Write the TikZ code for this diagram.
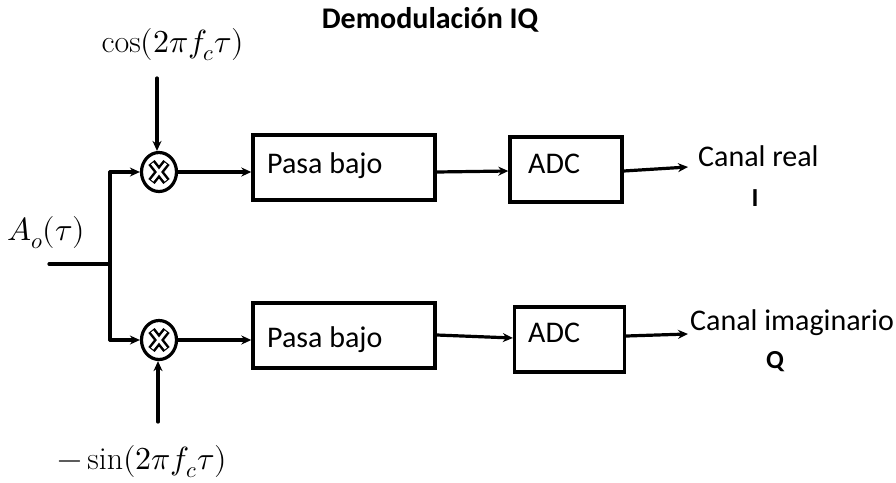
\documentclass[tikz,border=0pt]{standalone}
\usepackage{fontspec}
\usepackage{unicode-math}
\setmainfont{Carlito}
\setmathfont{Latin Modern Math}
\setmathrm{Latin Modern Roman}
\setoperatorfont\mathrm
\usetikzlibrary{shapes.geometric,arrows.meta,calc}

\tikzset{
  wire/.style={line width=3.2pt, line cap=round},
  arr/.style={wire, -{Stealth[length=10pt,width=9pt]}},
  blockbox/.style={draw, line width=3.4pt, inner sep=0pt},
  mixer/.style={ellipse, draw, line width=3.2pt, minimum width=35pt, minimum height=39pt, inner sep=0pt},
  lbl/.style={inner sep=0pt, font=\fontsize{30}{35}\selectfont},
  mlbl/.style={inner sep=0pt, font=\fontsize{32}{37}\selectfont},
  boldlbl/.style={inner sep=0pt, font=\fontsize{30}{35}\selectfont\bfseries},
}

% outlined cross drawn inside a mixer
\newcommand{\mixcross}[1]{%
  \draw[line width=8pt] ($(#1)+(-7.5,-9.5)$) -- ($(#1)+(7.5,9.5)$) ($(#1)+(-7.5,9.5)$) -- ($(#1)+(7.5,-9.5)$);
  \draw[line width=3pt, white] ($(#1)+(-6.8,-8.6)$) -- ($(#1)+(6.8,8.6)$) ($(#1)+(-6.8,8.6)$) -- ($(#1)+(6.8,-8.6)$);
}

\begin{document}
\begin{tikzpicture}[x=1pt, y=-1pt]
\useasboundingbox (0,0) rectangle (896,482);

% title
\node[boldlbl, anchor=base] (title) at (430,28) {Demodulación IQ};

% carrier and input labels
\node[mlbl] (cosl) at (173,45) {$\cos(2\pi f_c\tau)$};
\node[mlbl] (sinl) at (142,462) {$-\sin(2\pi f_c\tau)$};
\node[mlbl] (inl) at (46,233) {$A_o(\tau)$};

% mixers
\node[mixer] (m1) at (159,172) {};
\node[mixer] (m2) at (159,340) {};
\mixcross{m1}
\mixcross{m2}

% low-pass filters
\node[blockbox, minimum width=182pt, minimum height=65pt] (lp1) at (344,167.5) {};
\node[blockbox, minimum width=182pt, minimum height=65pt] (lp2) at (344,335.5) {};
\node[lbl, anchor=base west] (lp1t) at (267,173) {Pasa bajo};
\node[lbl, anchor=base west] (lp2t) at (267,347) {Pasa bajo};

% converters
\node[blockbox, minimum width=112pt, minimum height=65pt] (adc1) at (566,169.5) {};
\node[blockbox, minimum width=110pt, minimum height=65pt] (adc2) at (569.5,339.5) {};
\node[lbl, anchor=base west] (adc1t) at (528,173) {ADC};
\node[lbl, anchor=base west] (adc2t) at (528,342) {ADC};

% outputs
\node[lbl, anchor=base west] (out1t) at (698,166) {Canal real};
\node[lbl, anchor=base west] (out2t) at (690,330) {Canal imaginario};
\node[boldlbl, font=\fontsize{26}{30}\selectfont\bfseries] (iout) at (755,198) {I};
\node[boldlbl, font=\fontsize{26}{30}\selectfont\bfseries] (qout) at (775,362) {Q};

% wiring points
\coordinate (inA) at (49,264);
\coordinate (split) at (110,264);
\coordinate (br1) at (110,172);
\coordinate (br2) at (110,340);
\coordinate (c1) at (157,78);
\coordinate (c2) at (158,422);
\coordinate (o1) at (688,167);
\coordinate (o2) at (688,334);

% input and branches
\draw[wire] (inA) -- (split);
\draw[wire] (br1) -- (br2);
\draw[arr] (br1) -- (m1.west);
\draw[arr] (br2) -- (m2.west);

% carriers into mixers
\draw[arr] (c1) -- (c1 |- m1.north);
\draw[arr] (c2) -- (c2 |- m2.south);

% upper chain
\draw[arr] (m1.east) -- (m1.east -| lp1.west);
\draw[arr] (lp1.east |- 0,172) -- (adc1.west |- 0,171);
\draw[arr] (adc1.east |- 0,171) -- (o1);

% lower chain
\draw[arr] (m2.east) -- (m2.east -| lp2.west);
\draw[arr] (lp2.east |- 0,335) -- (adc2.west |- 0,338);
\draw[arr] (adc2.east |- 0,336) -- (o2);
\end{tikzpicture}
\end{document}
